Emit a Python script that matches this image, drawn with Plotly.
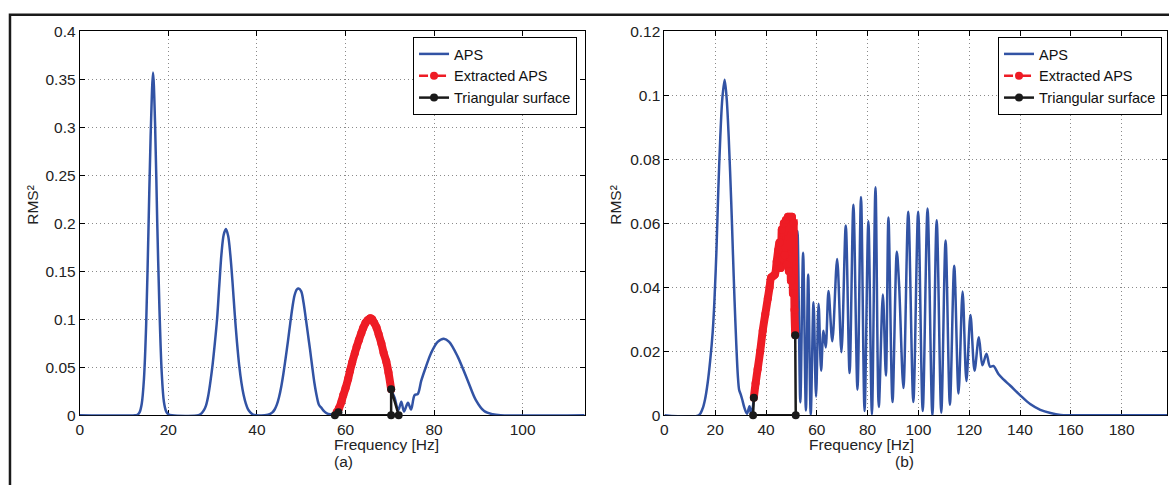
import plotly.graph_objects as go

# ---------------- data: panel (a) ----------------
aps_a_f = [0, 12.5, 13.0, 13.5, 14.0, 14.5, 15.0, 15.5, 16.0, 16.55, 17.0, 17.5, 18.0, 18.5, 19.0, 19.5, 20.0, 20.8,
           26.8, 27.5, 28.0, 28.5, 29.0, 29.5, 30.0, 30.5, 31.0, 31.5, 32.0, 32.5, 33.0, 33.5, 34.0, 34.5, 35.0, 35.5,
           36.0, 36.5, 37.0, 37.5, 38.0, 38.5, 39.0, 39.8,
           42.5, 43.5, 44.0, 44.5, 45.0, 45.5, 46.0, 46.5, 47.0, 47.5, 48.0, 48.5, 49.0, 49.4, 50.0, 50.5, 51.0, 51.5,
           52.0, 52.5, 53.0, 53.5, 54.0, 54.6, 55.2, 55.8, 56.5, 57.2, 57.7,
           58.0, 58.5, 59.1, 59.5, 60.0, 60.6, 61.0, 61.5, 62.1, 62.5, 63.0, 63.6, 64.0, 64.5, 65.0, 65.6, 66.0, 66.5,
           67.0, 67.5, 68.1, 68.6, 69.2, 69.7, 70.3,
           71.1, 71.9, 72.6, 73.2, 74.1, 74.8, 75.6, 76.3, 77.1, 78.2, 79.3, 80.8, 82.2, 83.4, 85.3, 87.6, 89.4, 91.3,
           93.2, 95.0, 114.0]
aps_a_v = [0, 0, 0.0005, 0.003, 0.012, 0.038, 0.095, 0.19, 0.29, 0.357, 0.305, 0.20, 0.11, 0.045, 0.014, 0.004, 0.001, 0,
           0, 0.002, 0.005, 0.010, 0.020, 0.035, 0.053, 0.075, 0.100, 0.135, 0.168, 0.188, 0.194, 0.187, 0.167, 0.138,
           0.105, 0.076, 0.052, 0.034, 0.021, 0.012, 0.006, 0.003, 0.001, 0,
           0.0005, 0.003, 0.006, 0.011, 0.019, 0.030, 0.044, 0.060, 0.077, 0.095, 0.112, 0.125, 0.131, 0.132, 0.129,
           0.118, 0.102, 0.085, 0.068, 0.050, 0.033, 0.020, 0.011, 0.0075, 0.004, 0.002, 0.001, 0.0005, 0.0003,
           0.003, 0.007, 0.0144, 0.021, 0.028, 0.038, 0.046, 0.055, 0.0646, 0.071, 0.078, 0.086, 0.091, 0.096, 0.099,
           0.101, 0.100, 0.096, 0.0915, 0.084, 0.0747, 0.065, 0.056, 0.0445, 0.027,
           0.018, 0.005, 0.014, 0.004, 0.013, 0.006, 0.021, 0.022, 0.036, 0.051, 0.0646, 0.0764, 0.0797, 0.0764,
           0.0613, 0.036, 0.016, 0.0043, 0.001, 0, 0]
extract_a_range = (58.0, 70.3)
tri_a_f = [58.4, 57.6, 72.0, 70.3, 70.3]
tri_a_v = [0.003, 0, 0, 0.027, 0]

# ---------------- data: panel (b) ----------------
aps_b_f = [0, 13.5, 15.0, 16.0, 17.0, 18.0, 19.0, 19.7, 20.5, 21.2, 22.0, 22.8, 23.7, 24.5, 25.3, 26.3, 27.0, 27.6,
           28.3, 28.9, 29.4, 29.9, 30.6, 31.5, 32.5, 33.5, 34.1, 34.8,
           35.2, 35.9, 36.7, 37.7, 38.7, 39.7, 40.7, 41.4, 42.0, 42.8, 43.5, 44.2, 44.8, 45.3, 45.8, 46.2, 46.6, 47.0,
           47.4, 47.8, 48.2, 48.6, 49.0, 49.4, 49.8, 50.2, 50.6, 50.9, 51.2, 51.5,
           52.4, 53.5, 54.6, 55.7, 56.6, 57.6, 58.7, 59.7, 60.7, 61.7, 62.6, 63.5, 64.6, 66.1, 68.0, 69.7, 71.4, 72.9,
           74.4, 76.0, 77.4, 78.8, 80.3, 81.7, 83.1, 84.4, 86.0, 87.2, 88.2, 89.8, 91.5, 92.4, 94.1, 96.0, 98.0, 99.9,
           101.7, 103.6, 105.5, 107.2, 109.0, 110.7, 112.4, 114.1, 115.8, 117.4, 118.9, 120.5, 122.1, 123.8, 125.2,
           126.8, 128.2, 129.5, 131.5, 133.5, 136.1, 140.0, 144.0, 148.0, 152.0, 156.0, 160.0, 198.0]
aps_b_v = [0, 0, 0.002, 0.005, 0.010, 0.017, 0.026, 0.036, 0.052, 0.070, 0.087, 0.099, 0.1048, 0.099, 0.087, 0.0666,
           0.050, 0.036, 0.022, 0.0124, 0.008, 0.0068, 0.005, 0.0023, 0.0005, 0.0028, 0.0005, 0.0025,
           0.0055, 0.010, 0.0144, 0.020, 0.0264, 0.0315, 0.0365, 0.040, 0.043, 0.0435, 0.044, 0.048, 0.0516, 0.054,
           0.046, 0.058, 0.049, 0.060, 0.050, 0.061, 0.047, 0.062, 0.045, 0.062, 0.042, 0.062, 0.038, 0.060, 0.033,
           0.025,
           0.0576, 0.004, 0.0508, 0.0015, 0.044, 0.0002, 0.0353, 0.0058, 0.0348, 0.0139, 0.0264, 0.0212, 0.0388,
           0.0231, 0.0488, 0.0197, 0.0593, 0.0132, 0.0658, 0.0080, 0.0682, 0.0013, 0.0606, 0.0003, 0.0712, 0.0026,
           0.0377, 0.0124, 0.0618, 0.0041, 0.0511, 0.0407, 0.0085, 0.0636, 0.0041, 0.0636, 0.0013, 0.0646, 0.0,
           0.0609, 0.0008, 0.0546, 0.0033, 0.0467, 0.0068, 0.0387, 0.0107, 0.0313, 0.0139, 0.0244, 0.0156, 0.0192,
           0.0152, 0.0154, 0.0129, 0.0112, 0.0093, 0.0063, 0.0035, 0.0017, 0.0007, 0.0001, 0, 0]
extract_b_range = (35.2, 51.5)
tri_b_f = [35.2, 34.9, 51.7, 51.5]
tri_b_v = [0.0055, 0, 0, 0.025]

# ticks
xt_a = [0, 20, 40, 60, 80, 100]
yt_a = [0, 0.05, 0.1, 0.15, 0.2, 0.25, 0.3, 0.35, 0.4]
yt_a_lbl = ["0", "0.05", "0.1", "0.15", "0.2", "0.25", "0.3", "0.35", "0.4"]
xt_b = [0, 20, 40, 60, 80, 100, 120, 140, 160, 180]
yt_b = [0, 0.02, 0.04, 0.06, 0.08, 0.1, 0.12]
yt_b_lbl = ["0", "0.02", "0.04", "0.06", "0.08", "0.1", "0.12"]

BLUE = "#3253a4"
RED = "#ee1c25"
BLACK = "#1a1a1a"
FONT = "Liberation Sans, Arial, sans-serif"
FS = 15.5
LFS = 14.5
W, H = 1169, 485


def extract(fs, vs, rng):
    pts = [(f, v) for f, v in zip(fs, vs) if rng[0] <= f <= rng[1]]
    return [p[0] for p in pts], [p[1] for p in pts]


fig = go.Figure()


def add_panel(fs, vs, rng, tf, tv, xa, ya, leg):
    ex_f, ex_v = extract(fs, vs, rng)
    fig.add_trace(go.Scatter(x=fs, y=vs, mode="lines", name="APS", xaxis=xa, yaxis=ya, legend=leg,
                             line=dict(color=BLUE, width=2.5, shape="spline", smoothing=0.9)))
    fig.add_trace(go.Scatter(x=ex_f, y=ex_v, mode="lines", showlegend=False, xaxis=xa, yaxis=ya, legend=leg,
                             line=dict(color=RED, width=8, shape="spline", smoothing=0.9), hoverinfo="skip"))
    fig.add_trace(go.Scatter(x=ex_f, y=ex_v, mode="lines+markers", name="Extracted APS", xaxis=xa, yaxis=ya,
                             legend=leg, line=dict(color=RED, width=2.5, dash="dash"),
                             marker=dict(color=RED, size=8)))
    fig.add_trace(go.Scatter(x=tf, y=tv, mode="lines+markers", name="Triangular surface", xaxis=xa, yaxis=ya,
                             legend=leg, cliponaxis=False, line=dict(color=BLACK, width=2.5),
                             marker=dict(color=BLACK, size=8)))


add_panel(aps_a_f, aps_a_v, extract_a_range, tri_a_f, tri_a_v, "x", "y", "legend")
add_panel(aps_b_f, aps_b_v, extract_b_range, tri_b_f, tri_b_v, "x2", "y2", "legend2")

ax_common = dict(showline=True, linecolor="black", linewidth=1, mirror="ticks", ticks="inside", ticklen=5,
                 tickcolor="black", showgrid=True, gridcolor="#8a8a8a", gridwidth=1, griddash="1px,3px",
                 zeroline=False, layer="below traces", tickfont=dict(family=FONT, size=FS, color="#222"))

y0p, y1p = (H - 421) / H, (H - 23) / H
leg_common = dict(yanchor="top", xanchor="right", y=(H - 29) / H, bgcolor="white", bordercolor="black",
                  borderwidth=1, font=dict(family=FONT, size=LFS, color="#111"), tracegroupgap=0)
fig.update_layout(
    width=W, height=H, margin=dict(l=0, r=0, t=0, b=0),
    plot_bgcolor="white", paper_bgcolor="white",
    font=dict(family=FONT, size=FS, color="#222"),
    xaxis=dict(domain=[76 / W, 582.7 / W], range=[0, 114], tickvals=xt_a, anchor="y", **ax_common),
    yaxis=dict(domain=[y0p, y1p], range=[0, 0.4], tickvals=yt_a, ticktext=yt_a_lbl, anchor="x", **ax_common),
    xaxis2=dict(domain=[662.7 / W, 1167.3 / W], range=[0, 198], tickvals=xt_b, anchor="y2", **ax_common),
    yaxis2=dict(domain=[y0p, y1p], range=[0, 0.12], tickvals=yt_b, ticktext=yt_b_lbl, anchor="x2", **ax_common),
    legend=dict(x=575 / W, **leg_common),
    legend2=dict(x=1162 / W, **leg_common),
    showlegend=True,
)

# outer frame of the figure
fig.add_shape(type="rect", xref="paper", yref="paper", x0=6 / W, x1=1.02, y0=-0.05, y1=(H - 6) / H,
              line=dict(color="#1a1a1a", width=2.5), layer="above")

# axis labels
for xc, tag in [((76 + 582.7) / 2 / W, "(a)"), ((662.7 + 1167.3) / 2 / W, "(b)")]:
    fig.add_annotation(x=xc, y=(H - 451) / H, xref="paper", yref="paper", text="Frequency [Hz]",
                       showarrow=False, font=dict(family=FONT, size=FS, color="#222"), yanchor="middle")
    fig.add_annotation(x=xc, y=(H - 469) / H, xref="paper", yref="paper", text=tag,
                       showarrow=False, font=dict(family=FONT, size=FS, color="#222"), yanchor="middle")
for xc in [29 / W, 614 / W]:
    fig.add_annotation(x=xc, y=(H - 203) / H, xref="paper", yref="paper", text="RMS²",
                       textangle=-90, showarrow=False, font=dict(family=FONT, size=FS, color="#222"),
                       xanchor="center", yanchor="middle")

fig.write_html("out.html", config={"displayModeBar": False},
               post_script="document.body.style.margin='0px';")
